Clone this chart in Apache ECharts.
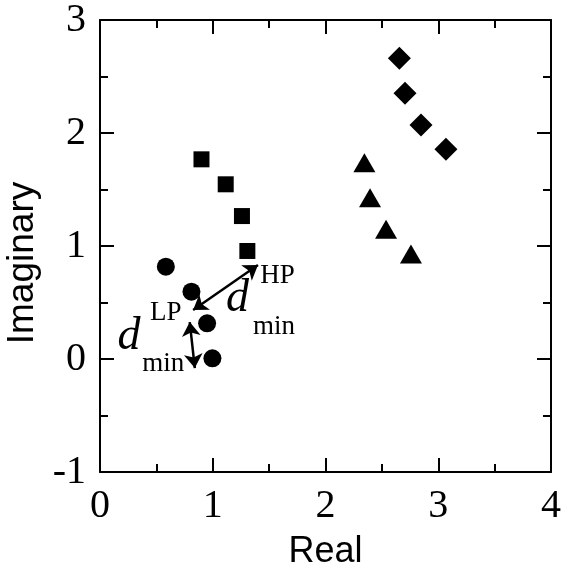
<!DOCTYPE html>
<html>
<head>
<meta charset="utf-8">
<script src="https://cdn.jsdelivr.net/npm/echarts@6/dist/echarts.min.js"></script>
<style>
  html, body { margin: 0; padding: 0; background: #fff; }
  #chart { width: 562px; height: 574px; }
</style>
</head>
<body>
<div id="chart"></div>
<script>
// data: [real, imaginary]
const squares = [[0.90, 1.767], [1.115, 1.546], [1.259, 1.265], [1.307, 0.956]]
const diamonds = [[2.655, 2.661], [2.705, 2.351], [2.847, 2.071], [3.068, 1.856]]
const triangles = [[2.345, 1.737], [2.395, 1.427], [2.537, 1.148], [2.758, 0.929]]
const circles = [[0.584, 0.817], [0.811, 0.596], [0.95, 0.316], [0.997, 0.006]]

// axis ticks
const xTicks = [0, 1, 2, 3, 4]
const yTicks = [-1, 0, 1, 2, 3]

// annotation arrows (start, end) in data units
const arrows = [
  [[0.826, 0.434], [1.401, 0.832]], // d_min HP
  [[0.796, 0.327], [0.841, -0.08]]  // d_min LP
]
// annotation texts: [text, real, imag, kind]
const notes = [
  ['d', 1.22, 0.53, 'big'],
  ['HP', 1.575, 0.735, 'small'],
  ['min', 1.544, 0.283, 'small'],
  ['d', 0.257, 0.199, 'big'],
  ['LP', 0.584, 0.407, 'small'],
  ['min', 0.56, -0.044, 'small']
]

const serif = '"Liberation Serif", "DejaVu Serif", serif'
const sans = '"Liberation Sans", Arial, sans-serif'

const tickStyle = {
  axisLine: {show: true, onZero: false, lineStyle: {color: '#000', width: 2}},
  axisTick: {show: true, inside: true, length: 14, lineStyle: {color: '#000', width: 2}},
  minorTick: {show: true, splitNumber: 2, length: 8, lineStyle: {color: '#000', width: 2}},
  splitLine: {show: false},
  minorSplitLine: {show: false}
}

const xAxisBase = {
  type: 'value', min: xTicks[0], max: xTicks[xTicks.length - 1], interval: 1,
  ...tickStyle
}
const yAxisBase = {
  type: 'value', min: yTicks[0], max: yTicks[yTicks.length - 1], interval: 1,
  ...tickStyle
}

const markerSeries = (name, data, symbol, size) => ({
  name: name,
  type: 'scatter',
  data: data,
  symbol: symbol,
  symbolSize: size,
  itemStyle: {color: '#000', opacity: 1},
  emphasis: {disabled: true},
  z: 3
})

let option = {
  backgroundColor: '#fff',
  animation: false,
  grid: {left: 100, right: 11, top: 20, bottom: 102, containLabel: false, outerBoundsMode: 'none'},
  xAxis: [
    {
      ...xAxisBase, position: 'bottom',
      axisLabel: {color: '#000', fontFamily: serif, fontSize: 40, margin: 14},
      name: 'Real', nameLocation: 'middle', nameGap: 62,
      nameTextStyle: {color: '#000', fontFamily: sans, fontSize: 36}
    },
    {...xAxisBase, position: 'top', axisLabel: {show: false}}
  ],
  yAxis: [
    {
      ...yAxisBase, position: 'left',
      axisLabel: {color: '#000', fontFamily: serif, fontSize: 40, margin: 14},
      name: 'Imaginary', nameLocation: 'middle', nameGap: 49,
      nameTextStyle: {color: '#000', fontFamily: sans, fontSize: 37, padding: [0, 34, 0, 0]}
    },
    {...yAxisBase, position: 'right', axisLabel: {show: false}}
  ],
  series: [
    markerSeries('squares', squares, 'rect', 16),
    markerSeries('diamonds', diamonds, 'diamond', 23),
    markerSeries('triangles', triangles, 'triangle', [22, 19]),
    markerSeries('circles', circles, 'circle', 18),
    {
      name: 'notes',
      type: 'scatter',
      data: [],
      silent: true,
      markLine: {
        silent: true,
        symbol: ['arrow', 'arrow'],
        symbolSize: 14,
        label: {show: false},
        lineStyle: {color: '#000', width: 2.5, type: 'solid'},
        emphasis: {disabled: true},
        data: arrows.map(a => [{coord: a[0]}, {coord: a[1]}])
      },
      markPoint: {
        silent: true,
        symbol: 'circle',
        symbolSize: 1,
        itemStyle: {color: 'rgba(0,0,0,0)'},
        label: {show: true, position: 'inside'},
        data: notes.map(n => ({
          coord: [n[1], n[2]],
          label: {
            formatter: n[0],
            color: '#000',
            fontFamily: serif,
            fontSize: n[3] === 'big' ? 46 : 27,
            fontStyle: n[3] === 'big' ? 'italic' : 'normal'
          }
        }))
      }
    }
  ]
}

let myChart = echarts.init(document.getElementById('chart'))
myChart.setOption(option)
</script>
</body>
</html>
